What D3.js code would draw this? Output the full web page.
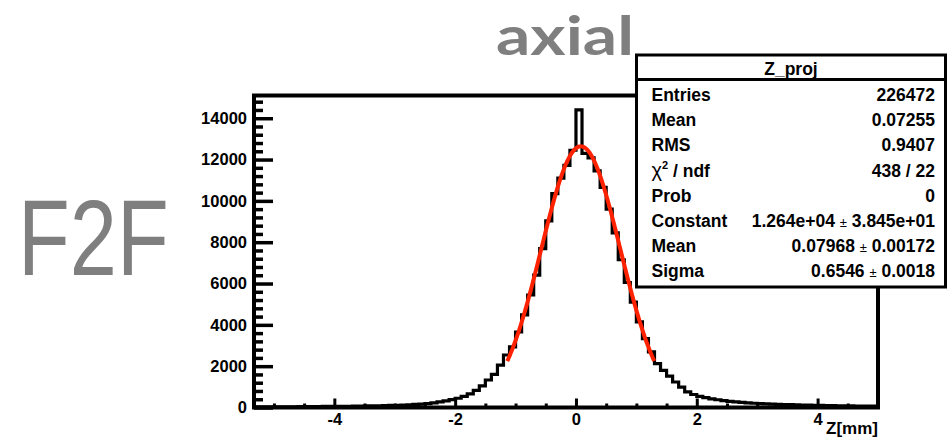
<!DOCTYPE html>
<html>
<head>
<meta charset="utf-8">
<script src="https://cdn.jsdelivr.net/npm/d3@7/dist/d3.min.js"></script>
<style>
  html, body { margin: 0; padding: 0; background: #fff; }
  svg { display: block; }
  .lbl { font-family: "Liberation Sans", Arial, Helvetica, sans-serif; font-weight: bold; }
</style>
</head>
<body>
<script>
// Z_proj histogram: 0.1 mm bins starting at -5.3 mm
const binStart = -5.3;
const binWidth = 0.1;
const counts = [
  29, 31, 30, 34, 35, 37, 36, 40, 43, 44,
  47, 50, 51, 55, 58, 61, 65, 70, 74, 79,
  85, 92, 100, 110, 120, 134, 150, 168, 192, 228,
  268, 318, 378, 448, 538, 655, 825, 1045, 1330, 1600,
  2050, 2540, 2930, 3655, 4480, 5445, 6410, 7690, 9030, 10350,
  11100, 11720, 12450,
  14400, 12300, 12080, 11450, 10650, 9600, 8450, 7150, 6050, 5100,
  4140, 3330, 2690, 2120, 1800, 1520, 1235, 990, 760, 630,
  540, 480, 420, 375, 335, 300, 270, 245, 225, 205,
  190, 178, 165, 155, 145, 135, 128, 120, 112, 105,
  100, 95, 88, 84, 80, 75, 72, 68, 65, 62
];

// Gaussian fit result
const fitConstant = 1.264e4;
const fitMean = 0.07968;
const fitSigma = 0.6546;
const fitRange = [-1.137, 1.296];

// Axis ticks
const xMajorTicks = [-4, -2, 0, 2, 4];
const xMinorTicks = [-5, -4.5, -3.5, -3, -2.5, -1.5, -1, -0.5, 0.5, 1, 1.5, 2.5, 3, 3.5, 4.5];
const yMajorTicks = [0, 2000, 4000, 6000, 8000, 10000, 12000, 14000];
const yMinorTicks = d3.range(0, 15100, 400).filter(v => v % 2000 !== 0);

// Statistics box
const statsTitle = "Z_proj";
const statsRows = [
  ["Entries", "226472"],
  ["Mean", "0.07255"],
  ["RMS", "0.9407"],
  ["chi2", "438 / 22"],
  ["Prob", "0"],
  ["Constant", "1.264e+04 ± 3.845e+01"],
  ["Mean", "0.07968 ± 0.00172"],
  ["Sigma", "0.6546 ± 0.0018"]
];

const W = 949, H = 439;
const frame = { left: 254, right: 878, top: 95.5, bottom: 407.5 };

const svg = d3.select("body").append("svg")
  .attr("width", W).attr("height", H)
  .attr("viewBox", `0 0 ${W} ${H}`);

svg.append("rect").attr("width", W).attr("height", H).attr("fill", "#fff");

const x = d3.scaleLinear().domain([-5.33, 5]).range([frame.left, frame.right]);
const y = d3.scaleLinear().domain([0, 15100]).range([frame.bottom, frame.top]);

// Big labels
svg.append("text")
  .attr("x", 496).attr("y", 55)
  .attr("font-family", "Lato, 'Open Sans', sans-serif")
  .attr("font-weight", "bold")
  .attr("font-size", 54)
  .attr("textLength", 138)
  .attr("lengthAdjust", "spacingAndGlyphs")
  .attr("fill", "#7f7f7f")
  .text("axial");

// narrow the wide sans face horizontally
svg.append("text")
  .attr("transform", "translate(18,275) scale(0.785,1)")
  .attr("font-family", "'Liberation Sans', Arial, sans-serif")
  .attr("font-size", 108)
  .attr("fill", "#7f7f7f")
  .text("F2F");

// Clip for the plotting area
svg.append("clipPath").attr("id", "plotclip")
  .append("rect")
  .attr("x", frame.left).attr("y", frame.top)
  .attr("width", frame.right - frame.left).attr("height", frame.bottom - frame.top);

// Histogram outline
const histPts = counts.map((c, i) => [binStart + i * binWidth, c]);
histPts.push([binStart + counts.length * binWidth, counts[counts.length - 1]]);
const histLine = d3.line()
  .x(d => x(d[0])).y(d => y(d[1]))
  .curve(d3.curveStepAfter);

svg.append("path")
  .attr("clip-path", "url(#plotclip)")
  .attr("d", histLine(histPts))
  .attr("fill", "none")
  .attr("stroke", "#000")
  .attr("stroke-width", 3.2)
  .attr("stroke-linejoin", "miter");

// Gaussian fit curve
const gauss = v => fitConstant * Math.exp(-0.5 * Math.pow((v - fitMean) / fitSigma, 2));
const fitPts = d3.range(0, 201).map(k => {
  const v = fitRange[0] + (fitRange[1] - fitRange[0]) * k / 200;
  return [v, gauss(v)];
});
svg.append("path")
  .attr("d", d3.line().x(d => x(d[0])).y(d => y(d[1]))(fitPts))
  .attr("fill", "none")
  .attr("stroke", "#ff2200")
  .attr("stroke-width", 4);

// Axes
const tickFont = g => g.selectAll("text")
  .attr("class", "lbl")
  .attr("font-size", 16.5)
  .attr("fill", "#000");

const yMajor = svg.append("g")
  .attr("transform", `translate(${frame.left},0)`)
  .call(d3.axisLeft(y).tickValues(yMajorTicks).tickSize(-19).tickPadding(7)
    .tickFormat(d => String(d)));
yMajor.select(".domain").remove();
yMajor.selectAll("line").attr("stroke", "#000").attr("stroke-width", 3.5);
yMajor.call(tickFont).selectAll("text").attr("font-family", null);

const yMinor = svg.append("g")
  .attr("transform", `translate(${frame.left},0)`)
  .call(d3.axisLeft(y).tickValues(yMinorTicks).tickSize(-9).tickFormat(""));
yMinor.select(".domain").remove();
yMinor.selectAll("line").attr("stroke", "#000").attr("stroke-width", 3.5);

const xMajor = svg.append("g")
  .attr("transform", `translate(0,${frame.bottom})`)
  .call(d3.axisBottom(x).tickValues(xMajorTicks).tickSize(-9).tickPadding(6)
    .tickFormat(d => String(d)));
xMajor.select(".domain").remove();
xMajor.selectAll("line").attr("stroke", "#000").attr("stroke-width", 3);
xMajor.call(tickFont).selectAll("text").attr("font-family", null);

const xMinor = svg.append("g")
  .attr("transform", `translate(0,${frame.bottom})`)
  .call(d3.axisBottom(x).tickValues(xMinorTicks).tickSize(-4).tickFormat(""));
xMinor.select(".domain").remove();
xMinor.selectAll("line").attr("stroke", "#000").attr("stroke-width", 3);

// Frame
svg.append("rect")
  .attr("x", frame.left).attr("y", frame.top)
  .attr("width", frame.right - frame.left).attr("height", frame.bottom - frame.top)
  .attr("fill", "none").attr("stroke", "#000").attr("stroke-width", 4);

// Axis title
svg.append("text")
  .attr("class", "lbl")
  .attr("x", frame.right).attr("y", 434)
  .attr("text-anchor", "end")
  .attr("font-size", 17)
  .text("Z[mm]");

// Statistics box
const box = { left: 636.5, right: 945.5, top: 55, bottom: 287, header: 79.5 };
svg.append("rect")
  .attr("x", box.left).attr("y", box.top)
  .attr("width", box.right - box.left).attr("height", box.bottom - box.top)
  .attr("fill", "#fff").attr("stroke", "#000").attr("stroke-width", 3);
svg.append("line")
  .attr("x1", box.left).attr("x2", box.right)
  .attr("y1", box.header).attr("y2", box.header)
  .attr("stroke", "#000").attr("stroke-width", 3);

svg.append("text")
  .attr("class", "lbl")
  .attr("x", (box.left + box.right) / 2).attr("y", 75)
  .attr("text-anchor", "middle")
  .attr("font-size", 17.5)
  .text(statsTitle);

const rowY = i => 101 + i * 25.2;
statsRows.forEach(([label, value], i) => {
  const lt = svg.append("text")
    .attr("class", "lbl")
    .attr("x", 651.5).attr("y", rowY(i))
    .attr("font-size", 17.5);
  if (label === "chi2") {
    lt.append("tspan").attr("font-weight", "normal").attr("font-size", 20).text("χ");
    lt.append("tspan").attr("font-size", 11).attr("dy", -8).text("2");
    lt.append("tspan").attr("dy", 8).text(" / ndf");
  } else {
    lt.text(label);
  }
  const vt = svg.append("text")
    .attr("class", "lbl")
    .attr("x", 935).attr("y", rowY(i))
    .attr("text-anchor", "end")
    .attr("font-size", 17.5);
  const parts = value.split(" ± ");
  if (parts.length === 2) {
    vt.append("tspan").text(parts[0] + " ");
    vt.append("tspan").attr("font-weight", "normal").attr("font-size", 13).text("±");
    vt.append("tspan").text(" " + parts[1]);
  } else {
    vt.text(value);
  }
});
</script>
</body>
</html>
